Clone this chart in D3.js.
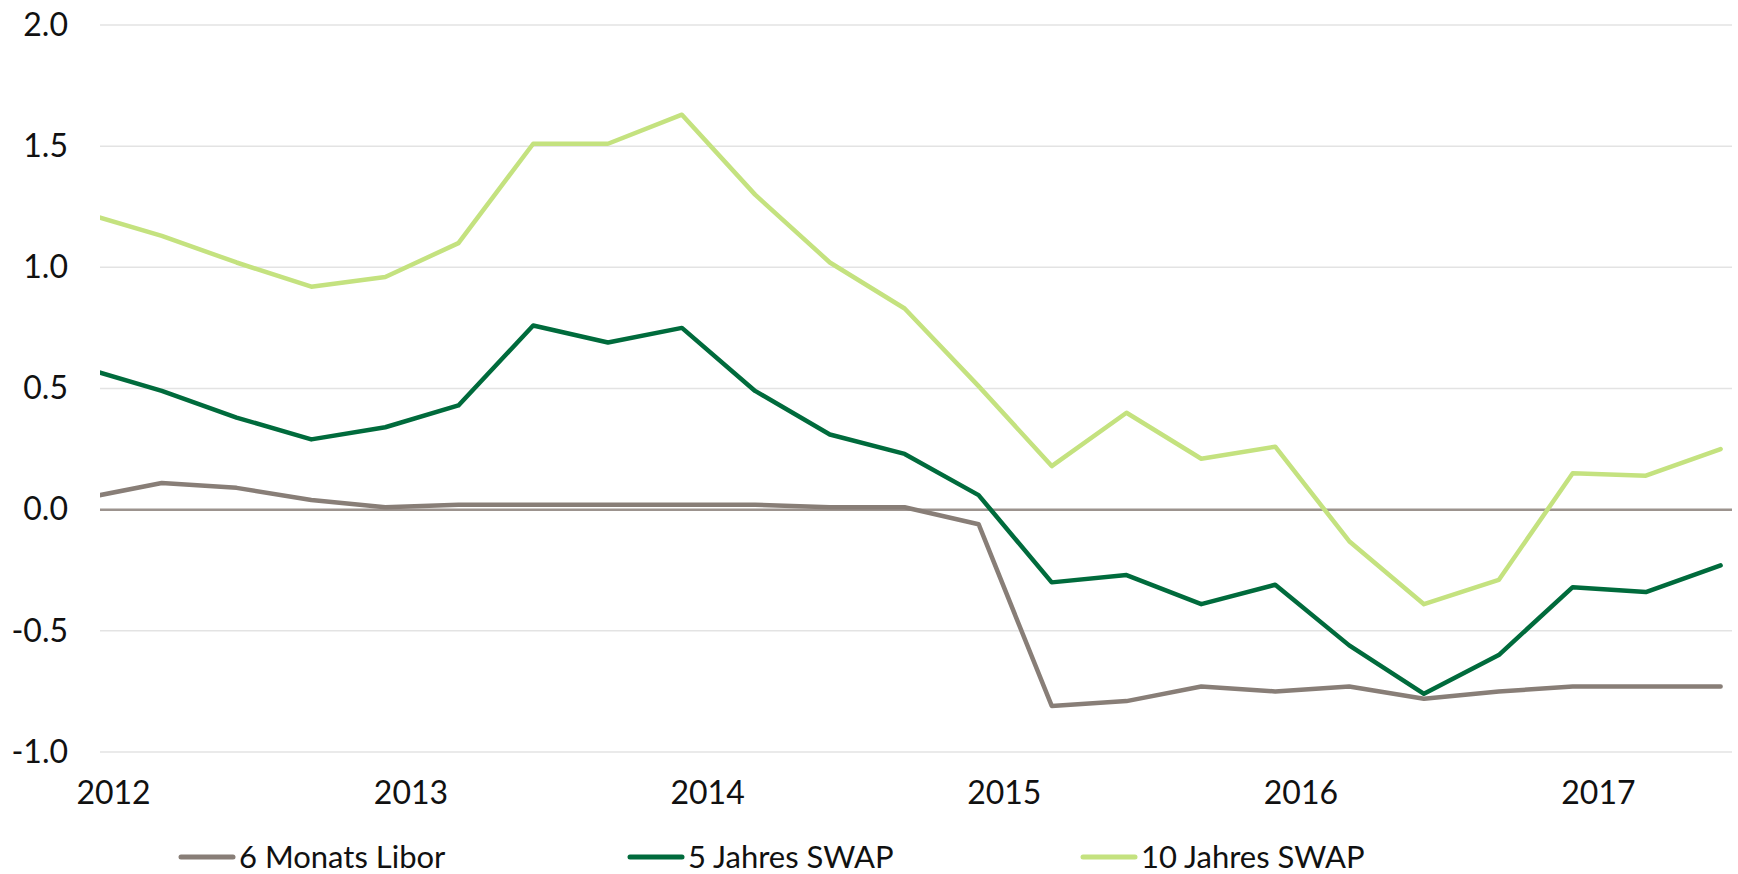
<!DOCTYPE html>
<meta charset="utf-8">
<style>
  body { margin: 0; background: #fff; }
  svg text { font-family: "Lato", "Open Sans", sans-serif; fill: #111; }
  .grid line { stroke: #e3e3e3; stroke-width: 1.5px; }
  .series { fill: none; stroke-width: 4.5px; stroke-linejoin: round; stroke-linecap: round; }
</style>
<svg width="1738" height="874"></svg>
<script src="https://d3js.org/d3.v7.min.js"></script>
<script>

// quarterly observations (Dec 2011 .. Jun 2017)
var dates = ["2011-12-01","2012-03-01","2012-06-01","2012-09-01","2012-12-01",
             "2013-03-01","2013-06-01","2013-09-01","2013-12-01",
             "2014-03-01","2014-06-01","2014-09-01","2014-12-01",
             "2015-03-01","2015-06-01","2015-09-01","2015-12-01",
             "2016-03-01","2016-06-01","2016-09-01","2016-12-01",
             "2017-03-01","2017-06-01"];

var libor6m = [0.05, 0.11, 0.09, 0.04, 0.01, 0.02, 0.02, 0.02, 0.02, 0.02, 0.01, 0.01,
               -0.06, -0.81, -0.79, -0.73, -0.75, -0.73, -0.78, -0.75, -0.73, -0.73, -0.73];
var swap5y = [0.58, 0.49, 0.38, 0.29, 0.34, 0.43, 0.76, 0.69, 0.75, 0.49, 0.31, 0.23,
              0.06, -0.30, -0.27, -0.39, -0.31, -0.56, -0.76, -0.60, -0.32, -0.34, -0.23];
var swap10y = [1.22, 1.13, 1.02, 0.92, 0.96, 1.10, 1.51, 1.51, 1.63, 1.30, 1.02, 0.83,
               0.51, 0.18, 0.40, 0.21, 0.26, -0.13, -0.39, -0.29, 0.15, 0.14, 0.25];

var seriesNames = ["6 Monats Libor", "5 Jahres SWAP", "10 Jahres SWAP"];
var seriesColors = ["#887e77", "#006b3c", "#c4e27f"];
var yTicks = [-1.0, -0.5, 0.0, 0.5, 1.0, 1.5, 2.0];
var yearTicks = ["2012", "2013", "2014", "2015", "2016", "2017"];

var svg = d3.select("svg"),
    margin = {top: 25, right: 6, bottom: 122, left: 100},
    width = +svg.attr("width") - margin.left - margin.right,
    height = +svg.attr("height") - margin.top - margin.bottom;

var parseDate = d3.timeParse("%Y-%m-%d");

var x = d3.scaleTime()
    .domain([parseDate("2011-12-16"), parseDate("2017-06-15")])
    .range([0, width]);
var y = d3.scaleLinear().domain([-1, 2]).range([height, 0]);

var g = svg.append("g")
    .attr("transform", "translate(" + margin.left + "," + margin.top + ")");

g.append("defs").append("clipPath")
    .attr("id", "clip")
  .append("rect")
    .attr("x", 0).attr("y", -10)
    .attr("width", width).attr("height", height + 20);

// horizontal gridlines
g.append("g")
    .attr("class", "grid")
  .selectAll("line")
  .data(yTicks.filter(function(d) { return d !== 0; }))
  .enter().append("line")
    .attr("x1", 0).attr("x2", width)
    .attr("y1", function(d) { return y(d); })
    .attr("y2", function(d) { return y(d); });

// y axis labels
var yAxis = d3.axisLeft(y)
    .tickValues(yTicks)
    .tickFormat(function(d) { return d.toFixed(1); })
    .tickSize(0)
    .tickPadding(32);
g.append("g")
    .call(yAxis)
    .call(function(a) { a.select(".domain").remove(); })
    .selectAll("text")
    .style("font-size", "32px");

// x axis labels (years)
var xAxis = d3.axisBottom(x)
    .tickValues(yearTicks.map(function(s) { return parseDate(s + "-01-01"); }))
    .tickFormat(d3.timeFormat("%Y"))
    .tickSize(0)
    .tickPadding(29);
g.append("g")
    .attr("transform", "translate(0," + height + ")")
    .call(xAxis)
    .call(function(a) { a.select(".domain").remove(); })
    .selectAll("text")
    .style("font-size", "32px");

// zero line
g.append("line")
    .attr("x1", 0).attr("x2", width)
    .attr("y1", y(0)).attr("y2", y(0))
    .style("stroke", "#9c938e")
    .style("stroke-width", 2.5);

var allSeries = [libor6m, swap5y, swap10y];

var line = d3.line()
    .x(function(d, i) { return x(parseDate(dates[i])); })
    .y(function(d) { return y(d); });

var lines = g.append("g").attr("clip-path", "url(#clip)");
lines.selectAll("path")
  .data(allSeries)
  .enter().append("path")
    .attr("class", "series")
    .style("stroke", function(d, i) { return seriesColors[i]; })
    .attr("d", line);

// legend
var legendX = [181, 630, 1083];
var legend = svg.selectAll("g.legend")
  .data(seriesNames)
  .enter().append("g")
    .attr("class", "legend")
    .attr("transform", function(d, i) { return "translate(" + legendX[i] + ",857)"; });
legend.append("line")
    .attr("x1", 0).attr("x2", 52)
    .attr("y1", 0).attr("y2", 0)
    .style("stroke", function(d, i) { return seriesColors[i]; })
    .style("stroke-width", 5)
    .style("stroke-linecap", "round");
legend.append("text")
    .attr("x", 58)
    .attr("y", 0)
    .attr("dy", "0.35em")
    .style("font-size", "31px")
    .text(function(d) { return d; });

</script>
